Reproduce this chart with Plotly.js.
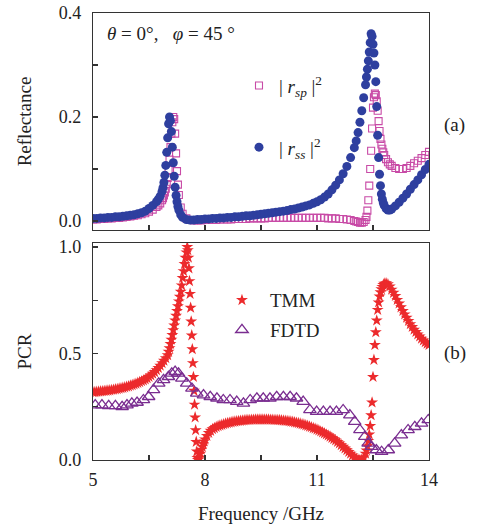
<!DOCTYPE html>
<html>
<head>
<meta charset="utf-8">
<script src="https://cdn.plot.ly/plotly-3.0.1.min.js"></script>
<style>html,body{margin:0;padding:0;background:#fff;}#chart{width:480px;height:524px;}</style>
</head>
<body>
<div id="chart"></div>
<script>
// ---- Panel (a): reflectance ----
const freqTop = [5.0,5.1,5.2,5.3,5.4,5.5,5.6,5.7,5.8,5.9,6.0,6.1,6.2,6.3,6.4,6.5,6.6,6.7,
  6.75,6.8,6.85,6.875,6.9,6.925,6.95,6.975,7.0,7.025,7.05,7.075,7.1,7.125,7.15,7.175,7.2,7.225,7.25,7.275,7.3,
  7.35,7.4,7.5,7.6,7.7,7.8,7.9,8.0,
  8.1,8.2,8.3,8.4,8.5,8.6,8.7,8.8,8.9,9.0,9.1,9.2,9.3,9.4,9.5,9.6,9.7,9.8,9.9,10.0,10.1,10.2,10.3,10.4,10.5,10.6,10.7,10.8,10.9,11.0,11.1,11.2,11.3,11.4,11.5,
  11.6,11.7,11.8,11.9,12.0,
  12.05,12.1,12.15,12.2,12.25,12.3,
  12.325,12.35,12.375,12.4,12.425,12.45,12.475,12.5,12.525,12.55,12.575,12.6,12.625,12.65,12.675,12.7,12.725,12.75,12.775,12.8,
  12.85,12.9,12.95,13.0,
  13.1,13.2,13.3,13.4,13.5,13.6,13.7,13.8,13.9,14.0];

const rss = [0.005,0.005,0.006,0.006,0.007,0.007,0.008,0.008,0.009,0.010,0.011,0.012,0.014,0.016,0.019,0.024,0.030,0.037,
  0.042,0.048,0.057,0.064,0.074,0.088,0.107,0.132,0.160,0.187,0.200,0.193,0.172,0.142,0.112,0.086,0.065,0.049,0.037,0.028,0.021,
  0.012,0.007,0.003,0.002,0.002,0.003,0.003,0.004,
  0.004,0.005,0.005,0.006,0.006,0.007,0.007,0.008,0.008,0.009,0.010,0.010,0.011,0.012,0.013,0.014,0.015,0.016,0.017,0.018,0.019,0.020,0.022,0.023,0.025,0.027,0.029,0.031,0.034,0.037,0.041,0.046,0.052,0.060,0.069,
  0.079,0.091,0.105,0.122,0.141,
  0.154,0.170,0.190,0.212,0.237,0.262,
  0.277,0.292,0.308,0.325,0.343,0.360,0.355,0.340,0.323,0.300,0.268,0.220,0.165,0.122,0.090,0.068,0.052,0.042,0.035,0.030,
  0.024,0.021,0.021,0.023,
  0.029,0.036,0.044,0.052,0.061,0.070,0.079,0.089,0.099,0.109];

const rsp = [0.003,0.003,0.004,0.004,0.005,0.005,0.006,0.006,0.007,0.008,0.009,0.010,0.011,0.013,0.015,0.018,0.022,0.027,
  0.030,0.034,0.040,0.044,0.049,0.055,0.062,0.071,0.083,0.098,0.118,0.142,0.168,0.190,0.200,0.196,0.168,0.130,0.096,0.070,0.050,
  0.026,0.014,0.005,0.002,0.001,0.001,0.001,0.002,
  0.002,0.002,0.002,0.003,0.003,0.003,0.003,0.004,0.004,0.004,0.004,0.005,0.005,0.005,0.005,0.005,0.006,0.006,0.006,0.006,0.006,0.006,0.006,0.006,0.006,0.006,0.006,0.006,0.006,0.006,0.006,0.006,0.005,0.005,0.005,
  0.004,0.004,0.003,0.002,0.000,
  -0.001,-0.002,-0.003,-0.003,-0.002,0.002,
  0.008,0.020,0.040,0.068,0.100,0.135,0.178,0.218,0.238,0.245,0.242,0.230,0.212,0.192,0.173,0.158,0.147,0.139,0.132,0.127,
  0.119,0.113,0.109,0.106,
  0.102,0.100,0.100,0.102,0.106,0.111,0.116,0.121,0.127,0.133];

// ---- Panel (b): PCR ----
const freqTMM = [
  5.0,5.05,5.1,5.15,5.2,5.25,5.3,5.35,5.4,5.45,
  5.5,5.55,5.6,5.65,5.7,5.75,5.8,5.85,5.9,5.95,
  6.0,6.05,6.1,6.15,6.2,6.25,6.3,6.35,6.4,6.45,
  6.5,
  6.55,6.6,6.65,6.7,6.75,6.8,6.85,6.9,6.95,7.0,
  7.025,7.05,7.075,7.1,7.125,7.15,7.175,7.2,7.225,7.25,
  7.275,7.3,7.325,7.35,7.375,7.4,7.425,7.45,7.475,7.5,
  7.525,7.54,7.555,7.57,7.585,7.6,7.615,7.63,7.645,7.66,
  7.675,7.69,7.705,7.72,7.735,7.75,7.765,7.78,7.795,7.81,
  7.85,7.875,7.9,7.925,7.95,7.975,8.0,8.05,8.1,8.15,
  8.2,8.25,8.3,8.35,8.4,8.45,8.5,8.55,8.6,8.65,
  8.7,8.75,8.8,8.85,8.9,8.95,9.0,9.05,9.1,9.15,
  9.2,9.25,9.3,9.35,9.4,9.45,9.5,9.55,9.6,9.65,
  9.7,9.75,9.8,9.85,9.9,9.95,10.0,10.05,10.1,10.15,
  10.2,10.25,10.3,10.35,10.4,10.45,10.5,10.55,10.6,10.65,
  10.7,10.75,10.8,10.85,10.9,10.95,11.0,11.05,11.1,11.15,
  11.2,11.25,11.3,11.35,11.4,11.45,11.5,11.55,11.6,11.65,
  11.7,11.75,11.8,
  11.85,11.9,11.95,12.0,12.05,12.1,12.15,12.2,12.25,12.3,
  12.325,12.35,12.375,12.4,12.425,12.45,12.475,12.5,12.525,12.55,
  12.575,12.6,12.625,12.65,12.675,12.7,12.725,12.75,12.775,12.8,
  12.85,12.9,12.95,13.0,13.05,13.1,13.15,13.2,13.25,13.3,
  13.35,13.4,13.45,13.5,13.55,13.6,13.65,13.7,13.75,13.8,
  13.85,13.9,13.95,14.0];

const tmm = [
  0.318,0.319,0.320,0.321,0.322,0.323,0.324,0.325,0.326,0.327,
  0.329,0.330,0.332,0.333,0.335,0.337,0.339,0.341,0.344,0.346,
  0.349,0.352,0.355,0.358,0.362,0.366,0.370,0.374,0.379,0.384,
  0.390,
  0.397,0.405,0.413,0.422,0.432,0.443,0.455,0.466,0.478,0.492,
  0.508,0.525,0.545,0.565,0.587,0.610,0.632,0.655,0.677,0.700,
  0.722,0.745,0.767,0.790,0.820,0.855,0.887,0.920,0.950,0.975,
  1.000,0.985,0.950,0.900,0.840,0.780,0.715,0.650,0.585,0.520,
  0.455,0.390,0.325,0.260,0.200,0.140,0.085,0.040,0.010,0.000,
  0.012,0.030,0.048,0.062,0.075,0.087,0.097,0.113,0.127,0.137,
  0.145,0.150,0.155,0.159,0.162,0.165,0.168,0.171,0.173,0.175,
  0.177,0.179,0.180,0.182,0.183,0.184,0.185,0.186,0.187,0.188,
  0.188,0.189,0.189,0.190,0.190,0.190,0.190,0.190,0.190,0.190,
  0.190,0.189,0.189,0.188,0.188,0.187,0.187,0.186,0.185,0.184,
  0.183,0.182,0.180,0.179,0.177,0.175,0.173,0.171,0.168,0.166,
  0.163,0.160,0.157,0.154,0.150,0.147,0.143,0.139,0.134,0.130,
  0.125,0.120,0.115,0.110,0.104,0.098,0.092,0.085,0.078,0.070,
  0.062,0.054,0.046,
  0.038,0.030,0.021,0.013,0.006,0.001,0.000,0.002,0.012,0.030,
  0.045,0.065,0.090,0.120,0.160,0.210,0.270,0.390,0.470,0.540,
  0.600,0.655,0.705,0.740,0.768,0.788,0.802,0.813,0.822,0.828,
  0.830,0.825,0.815,0.800,0.785,0.770,0.752,0.735,0.717,0.700,
  0.684,0.668,0.653,0.638,0.625,0.612,0.601,0.590,0.580,0.570,
  0.561,0.553,0.546,0.540];

const freqFDTD = [5.06,5.24,5.42,5.6,5.78,5.91,6.04,6.18,6.35,6.49,6.62,6.76,6.89,7.02,7.11,7.2,7.29,7.38,7.51,7.65,7.78,
  7.96,8.14,8.32,8.49,8.67,8.85,9.03,9.21,9.39,9.56,9.74,9.92,10.1,10.28,10.45,10.63,10.81,10.99,11.17,11.35,11.52,11.7,11.88,
  12.01,12.15,12.28,12.37,12.46,12.59,12.73,12.91,13.08,13.26,13.44,13.62,13.8,13.98];

const fdtd = [0.258,0.258,0.254,0.254,0.250,0.258,0.266,0.270,0.282,0.297,0.329,0.360,0.376,0.391,0.407,0.415,0.407,0.383,0.360,0.336,0.313,
  0.305,0.297,0.290,0.282,0.282,0.274,0.266,0.282,0.290,0.290,0.290,0.297,0.297,0.297,0.290,0.274,0.235,0.227,0.227,0.227,0.227,0.235,0.211,
  0.180,0.141,0.110,0.078,0.063,0.047,0.039,0.047,0.078,0.117,0.141,0.156,0.172,0.188];

const serif = 'Liberation Serif, Times New Roman, serif';
const ink = '#333';

const traces = [
  {x: freqTop, y: rsp, xaxis: 'x', yaxis: 'y', mode: 'markers', type: 'scatter',
   name: '|\u00a0<i>r</i><sub><i>sp</i></sub>\u00a0|<sup>2</sup>', legend: 'legend', legendgroup: 'a1',
   marker: {symbol: 'square-open', size: 7, color: '#c84aa6', line: {width: 1.1}}},
  {x: freqTop, y: rss, xaxis: 'x', yaxis: 'y', mode: 'markers', type: 'scatter',
   name: '|\u00a0<i>r</i><sub><i>ss</i></sub>\u00a0|<sup>2</sup>', legend: 'legend', legendgroup: 'a2',
   marker: {symbol: 'circle', size: 9, color: '#2e3f9f'}},
  {x: freqTMM, y: tmm, xaxis: 'x2', yaxis: 'y2', mode: 'markers', type: 'scatter',
   name: 'TMM', legend: 'legend2', legendgroup: 'b1',
   marker: {symbol: 'star', size: 9, color: '#ec2a2c', line: {width: 0}}},
  {x: freqFDTD, y: fdtd, xaxis: 'x2', yaxis: 'y2', mode: 'markers', type: 'scatter',
   name: 'FDTD', legend: 'legend2', legendgroup: 'b2',
   marker: {symbol: 'triangle-up-open', size: 11, color: '#7a2d90', line: {width: 1.3}}}
];

const axCommon = {
  showline: true, mirror: true, linecolor: ink, linewidth: 1.2,
  ticks: 'inside', ticklen: 5, tickwidth: 1.1, tickcolor: ink,
  showgrid: false, zeroline: false,
  tickfont: {family: serif, size: 18, color: '#222'}
};

const layout = {
  width: 480, height: 524,
  margin: {l: 93, r: 51, t: 13, b: 64},
  paper_bgcolor: '#fff', plot_bgcolor: '#fff',
  font: {family: serif, color: '#222'},
  showlegend: true,
  xaxis: Object.assign({}, axCommon, {anchor: 'y', domain: [0, 1], range: [5, 14],
    tick0: 5, dtick: 3, showticklabels: false,
    minor: {dtick: 1.5, tick0: 5, ticks: 'inside', ticklen: 5, tickcolor: ink}}),
  yaxis: Object.assign({}, axCommon, {anchor: 'x', domain: [0.5145, 1], range: [-0.0173, 0.4],
    tickvals: [0, 0.2, 0.4], ticktext: ['0.0', '0.2', '0.4'], ticklabelstandoff: 7,
    minor: {tickvals: [0.1, 0.3], ticks: 'inside', ticklen: 5, tickcolor: ink},
    title: {text: 'Reflectance', font: {family: serif, size: 19, color: '#222'}, standoff: 22}}),
  xaxis2: Object.assign({}, axCommon, {anchor: 'y2', domain: [0, 1], range: [5, 14],
    tickvals: [5, 8, 11, 14], ticktext: ['5', '8', '11', '14'], ticklabelstandoff: 3,
    minor: {dtick: 1.5, tick0: 5, ticks: 'inside', ticklen: 5, tickcolor: ink},
    title: {text: 'Frequency /GHz', font: {family: serif, size: 19, color: '#222'}, standoff: 19}}),
  yaxis2: Object.assign({}, axCommon, {anchor: 'x2', domain: [0, 0.4855], range: [0, 1.019],
    tickvals: [0, 0.5, 1], ticktext: ['0.0', '0.5', '1.0'], ticklabelstandoff: 7,
    minor: {tickvals: [0.25, 0.75], ticks: 'inside', ticklen: 5, tickcolor: ink},
    title: {text: 'PCR', font: {family: serif, size: 19, color: '#222'}, standoff: 22}}),
  legend: {x: 0.4345, y: 0.88, xanchor: 'left', yanchor: 'top', bgcolor: 'rgba(0,0,0,0)',
    font: {family: serif, size: 19, color: '#222'}, tracegroupgap: 34, itemwidth: 30},
  legend2: {x: 0.36, y: 0.4, xanchor: 'left', yanchor: 'top', bgcolor: 'rgba(0,0,0,0)',
    font: {family: serif, size: 19, color: '#222'}, tracegroupgap: 2, itemwidth: 46},
  annotations: [
    {xref: 'paper', yref: 'paper', x: 0.0357, y: 0.955, xanchor: 'left', yanchor: 'middle', showarrow: false,
     text: '<i>θ</i>\u00a0=\u00a00°,\u00a0\u00a0\u00a0<i>φ</i>\u00a0=\u00a045\u00a0°', font: {family: serif, size: 19, color: '#222'}},
    {xref: 'paper', yref: 'paper', x: 1.077, y: 0.749, xanchor: 'center', yanchor: 'middle', showarrow: false,
     text: '(a)', font: {family: serif, size: 19, color: '#222'}},
    {xref: 'paper', yref: 'paper', x: 1.077, y: 0.239, xanchor: 'center', yanchor: 'middle', showarrow: false,
     text: '(b)', font: {family: serif, size: 19, color: '#222'}}
  ]
};

Plotly.newPlot('chart', traces, layout, {displayModeBar: false, staticPlot: true});
</script>
</body>
</html>
